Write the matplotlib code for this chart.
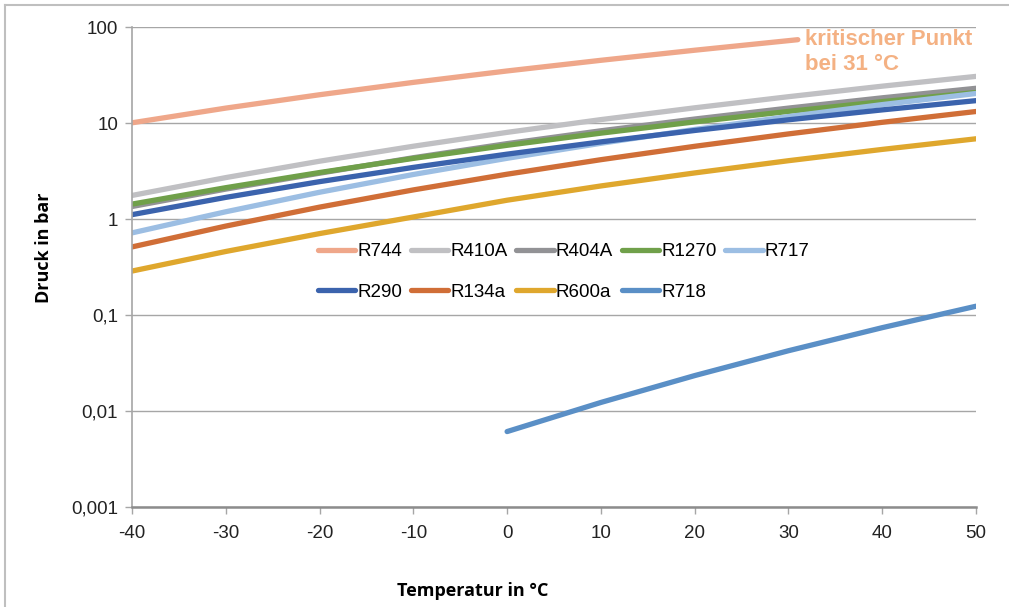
import matplotlib
matplotlib.use("Agg")
import matplotlib.pyplot as plt
from matplotlib.lines import Line2D

# Saturation pressure (bar) of common refrigerants
temps = [-40, -30, -20, -10, 0, 10, 20, 30, 40, 50]
temps_r744 = [-40, -30, -20, -10, 0, 10, 20, 30, 31]
temps_r718 = [0, 10, 20, 30, 40, 50]

r744 = [10.05, 14.3, 19.7, 26.5, 34.85, 45.0, 57.3, 72.1, 73.8]
r410a = [1.76, 2.70, 4.00, 5.73, 7.99, 10.85, 14.4, 18.8, 24.2, 30.6]
r404a = [1.35, 2.05, 3.00, 4.35, 6.10, 8.30, 11.0, 14.3, 18.3, 23.0]
r1270 = [1.43, 2.12, 3.05, 4.28, 5.86, 7.84, 10.27, 13.2, 16.7, 20.8]
r717 = [0.717, 1.19, 1.90, 2.91, 4.29, 6.15, 8.57, 11.67, 15.55, 20.3]
r290 = [1.11, 1.68, 2.45, 3.45, 4.74, 6.36, 8.36, 10.8, 13.7, 17.1]
r134a = [0.512, 0.844, 1.33, 2.01, 2.93, 4.15, 5.72, 7.70, 10.17, 13.18]
r600a = [0.287, 0.459, 0.705, 1.05, 1.57, 2.21, 3.02, 4.05, 5.31, 6.85]
r718 = [0.00611, 0.01228, 0.02339, 0.04246, 0.07384, 0.1235]

series = [
    ("R744", temps_r744, r744, "#EFA78A"),
    ("R410A", temps, r410a, "#C0C0C3"),
    ("R404A", temps, r404a, "#929295"),
    ("R1270", temps, r1270, "#70A04A"),
    ("R717", temps, r717, "#9CBEE3"),
    ("R290", temps, r290, "#3B63AD"),
    ("R134a", temps, r134a, "#D06E37"),
    ("R600a", temps, r600a, "#DFA72D"),
    ("R718", temps_r718, r718, "#5A8FC6"),
]

x_ticks = [-40, -30, -20, -10, 0, 10, 20, 30, 40, 50]
y_ticks = [0.001, 0.01, 0.1, 1, 10, 100]
y_tick_labels = ["0,001", "0,01", "0,1", "1", "10", "100"]

plt.rcParams["font.family"] = ["Liberation Sans", "DejaVu Sans"]

fig = plt.figure(figsize=(10.09, 6.07), dpi=100)
ax = fig.add_axes([0.1308, 0.1647, 0.8365, 0.7908])

lines = {}
for name, x, y, color in series:
    (ln,) = ax.plot(x, y, color=color, linewidth=3.8, solid_capstyle="round", label=name)
    lines[name] = ln

ax.set_yscale("log")
ax.set_xlim(-40, 50)
ax.set_ylim(0.001, 100)
ax.set_xticks(x_ticks)
ax.set_xticklabels([str(t) for t in x_ticks])
ax.set_yticks(y_ticks)
ax.set_yticklabels(y_tick_labels)
ax.minorticks_off()

ax.grid(True, axis="y", color="#A6A6A6", linewidth=1.0)
ax.set_axisbelow(True)
for side in ["top", "right"]:
    ax.spines[side].set_visible(False)
ax.spines["left"].set_color("#A6A6A6")
ax.spines["left"].set_linewidth(1.2)
ax.spines["bottom"].set_color("#8C8C8C")
ax.spines["bottom"].set_linewidth(1.8)
ax.tick_params(axis="both", direction="out", length=5, width=1.0, color="#A6A6A6",
               labelsize=13.5, labelcolor="#222222", pad=5)
ax.tick_params(axis="x", pad=8)

label_font = ["Open Sans", "DejaVu Sans"]
ax.set_xlabel("Temperatur in °C", fontsize=13, fontweight="bold", family=label_font)
ax.set_ylabel("Druck in bar", fontsize=13, fontweight="bold", family=label_font)
ax.xaxis.set_label_coords(0.404, -0.157)
ax.yaxis.set_label_coords(-0.093, 0.54)

# Critical point note next to the end of the CO2 curve
ax.text(temps_r744[-1] + 0.8, 96, "kritischer Punkt\nbei 31 °C", color="#F4B183",
        fontsize=16, fontweight="bold", va="top", ha="left", linespacing=1.25)

order = ["R744", "R290", "R410A", "R134a", "R404A", "R600a", "R1270", "R718", "R717"]
ax.legend([lines[n] for n in order], order, ncol=5, frameon=False, fontsize=13.5,
          handlelength=2.0, handletextpad=0.12, columnspacing=0.45, labelspacing=1.25,
          loc="upper left", bbox_to_anchor=(0.2, 0.585))

# Outer chart frame (left and top edges)
fig.add_artist(Line2D([0.005, 0.005], [0.0, 0.992], transform=fig.transFigure,
                      color="#BFBFBF", linewidth=1.5))
fig.add_artist(Line2D([0.005, 1.0], [0.992, 0.992], transform=fig.transFigure,
                      color="#BFBFBF", linewidth=1.5))

fig.savefig("out.png", dpi=100)
